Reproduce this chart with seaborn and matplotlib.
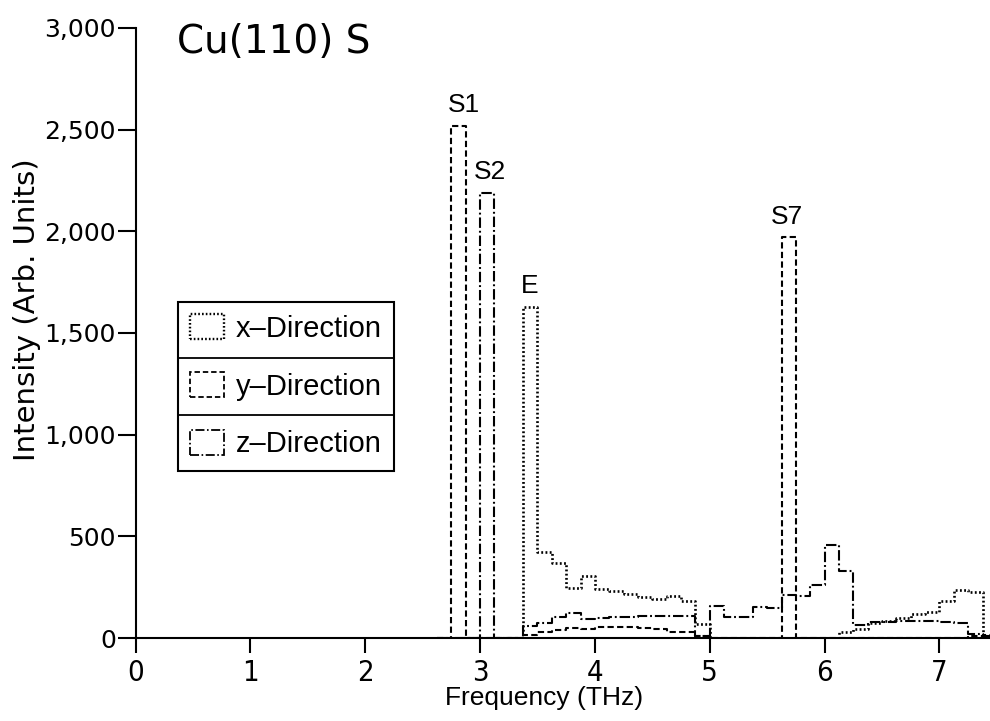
import numpy as np
import matplotlib
matplotlib.use("Agg")
import matplotlib.pyplot as plt
from matplotlib import font_manager
from matplotlib.patches import Patch
from matplotlib.lines import Line2D
from matplotlib.ticker import FuncFormatter
import seaborn as sns

# Phonon spectral intensity of the Cu(110) surface layer, 0.125 THz bins from 2.75 THz
bin_width = 0.125
freq_start = 2.75

x_direction = [0, 0, 0, 0, 0, 1630, 422, 369, 244, 304,
               239, 230, 217, 203, 190, 206, 184, 71, 0, 0,
               0, 0, 0, 0, 0, 0, 0, 30, 45, 75,
               85, 100, 118, 130, 183, 238, 224, 10]
y_direction = [2520, 0, 0, 0, 0, 13, 29, 39, 50, 46,
               52, 54, 55, 48, 46, 28, 28, 8, 0, 0,
               0, 0, 0, 1970, 0, 0, 0, 0, 0, 0,
               0, 0, 0, 0, 0, 0, 12, 15]
z_direction = [0, 0, 2190, 0, 0, 59, 75, 104, 121, 92,
               100, 102, 104, 106, 108, 110, 110, 10, 155, 104,
               104, 153, 150, 210, 205, 260, 458, 330, 62, 78,
               80, 82, 84, 82, 80, 74, 18, 10]

series_labels = ["x\u2013Direction", "y\u2013Direction", "z\u2013Direction"]
peak_labels = ["S1", "S2", "E", "S7"]
peak_series = ["y", "z", "x", "y"]
peak_bins = [0, 2, 5, 23]

x_ticks = [0, 1, 2, 3, 4, 5, 6, 7]
y_ticks = [0, 500, 1000, 1500, 2000, 2500, 3000]

sns.set_style("ticks")
plt.rcParams["font.family"] = ["Liberation Sans", "DejaVu Sans"]
for key in ["text.color", "axes.labelcolor", "xtick.color", "ytick.color", "axes.edgecolor"]:
    plt.rcParams[key] = "black"

# use a condensed face for the digits along the frequency axis when one is installed
condensed = [f for f in font_manager.fontManager.ttflist
             if f.name in ("Liberation Sans Narrow", "DejaVu Sans") and "condensed" in str(f.stretch)]
narrow_kw = {"family": "Liberation Sans"}
if condensed:
    narrow_kw = {"family": condensed[0].name, "stretch": "condensed"}

n_bins = len(x_direction)
centers = freq_start + (np.arange(n_bins) + 0.5) * bin_width
edges = (freq_start + np.arange(-1, n_bins + 2) * bin_width).tolist()

styles = {
    "x": (0, (0.7, 0.9)),
    "y": (0, (3.0, 1.6)),
    "z": (0, (5.0, 1.4, 0.9, 1.4)),
}
widths = {"x": 1.9, "y": 1.5, "z": 1.5}
values = {"x": x_direction, "y": y_direction, "z": z_direction}

fig = plt.figure(figsize=(9.9, 7.21), dpi=100)
ax = fig.add_axes([0.1369, 0.1151, 0.8631, 0.8461])

for key in ["x", "y", "z"]:
    sns.histplot(x=centers, weights=values[key], bins=edges, element="step",
                 fill=False, color="black", linewidth=widths[key],
                 linestyle=styles[key], ax=ax)

ax.set_xlim(0, 7.44)
ax.set_ylim(0, 3000)
ax.set_xticks(x_ticks)
ax.set_yticks(y_ticks)
ax.yaxis.set_major_formatter(FuncFormatter(lambda v, p: f"{v:,.0f}"))
for lab in ax.get_xticklabels():
    lab.set(**narrow_kw)
    lab.set_fontsize(21)
for lab in ax.get_yticklabels():
    lab.set_fontfamily("DejaVu Sans")
    lab.set_fontsize(18)
ax.tick_params(axis="x", direction="out", length=11, width=1.5, pad=4)
ax.tick_params(axis="y", direction="out", length=13, width=1.5, pad=1)
sns.despine(ax=ax)
for side in ["left", "bottom"]:
    ax.spines[side].set_linewidth(1.5)

ax.set_xlabel("Frequency (THz)", fontsize=19)
ax.xaxis.set_label_coords(0.478, -0.079)
ax.set_ylabel("Intensity (Arb. Units)", fontsize=21, family="DejaVu Sans")
ax.yaxis.set_label_coords(-0.111, 0.538)

ax.text(0.0486, 0.959, "Cu(110) S", transform=ax.transAxes, fontsize=28,
        family="DejaVu Sans", ha="left", va="baseline")

label_shift = {"S1": 5, "S2": 3, "E": -1, "S7": -2}
for label, key, idx in zip(peak_labels, peak_series, peak_bins):
    ax.annotate(label, xy=(centers[idx], values[key][idx]), xytext=(label_shift[label] * 0.72, 6),
                textcoords="offset points", ha="center", va="bottom", fontsize=19)

handles = [Patch(facecolor="none", edgecolor="black", linestyle=styles[k],
                 linewidth=widths[k] - 0.2) for k in ["x", "y", "z"]]
leg = ax.legend(handles, series_labels, loc="upper left", bbox_to_anchor=(0.0497, 0.551),
                fontsize=21, frameon=True, fancybox=False, shadow=False,
                handlelength=1.15, handleheight=0.95, handletextpad=0.4,
                labelspacing=1.0, borderpad=0.42, borderaxespad=0)
leg.get_frame().set_edgecolor("black")
leg.get_frame().set_linewidth(1.5)
leg.get_frame().set_alpha(1)

# horizontal rules between legend rows
fig.canvas.draw()
renderer = fig.canvas.get_renderer()
frame_box = leg.get_frame().get_window_extent(renderer)
text_boxes = [t.get_window_extent(renderer) for t in leg.get_texts()]
inv = fig.transFigure.inverted()
for upper, lower in zip(text_boxes[:-1], text_boxes[1:]):
    y_mid = (upper.y0 + lower.y1) / 2
    (x0, y0), (x1, _) = inv.transform([(frame_box.x0, y_mid), (frame_box.x1, y_mid)])
    fig.add_artist(Line2D([x0, x1], [y0, y0], transform=fig.transFigure,
                          color="black", linewidth=1.3))

fig.savefig("out.png", dpi=100)
